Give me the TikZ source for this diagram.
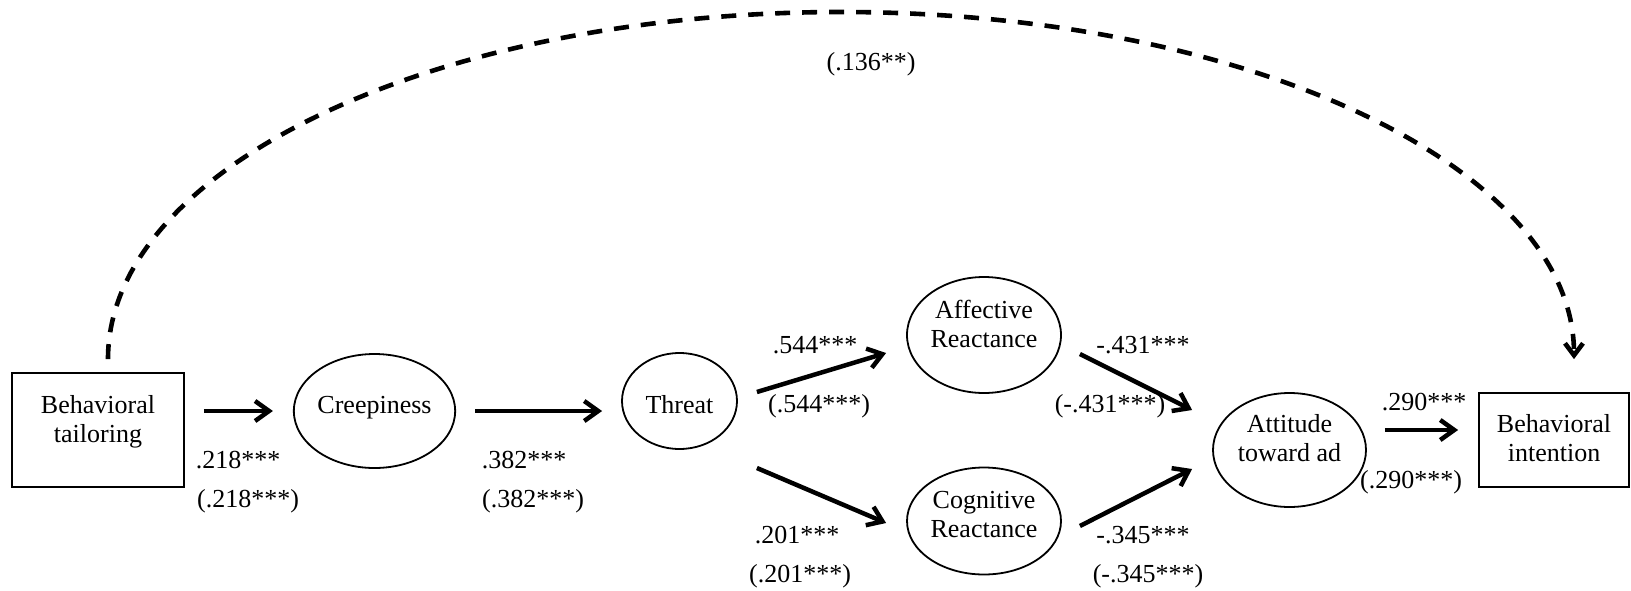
\documentclass[tikz,border=0pt]{standalone}
\usepackage{fontspec}
\setmainfont{Liberation Serif}
\usetikzlibrary{arrows.meta,calc,shapes.geometric}
\newcommand{\ntext}[2]{\raisebox{#1pt}[0pt][0pt]{\begin{tabular}[t]{@{}c@{}}#2\end{tabular}}}
\begin{document}
\begin{tikzpicture}[x=1pt,y=-1pt,
  every node/.style={font=\fontsize{26}{29}\selectfont, inner sep=0pt},
  ellnode/.style={ellipse, draw, line width=1.8pt},
  boxnode/.style={rectangle, draw, line width=1.8pt},
  pathlbl/.style={anchor=base},
  arr/.style={line width=4.5pt, -{Straight Barb[length=14pt,width=20pt]}},
  dasharr/.style={line width=4.6pt, dash pattern=on 15pt off 12pt, -{Straight Barb[length=12pt,width=18pt]}}]
\useasboundingbox (0,0) rectangle (1631,590);
% nodes
\node[boxnode, minimum width=172pt, minimum height=114pt] (bt) at (98,430) {\ntext{17}{Behavioral\\tailoring}};
\node[ellnode, minimum width=153pt, minimum height=114pt] (cr) at (374.5,411) {\ntext{-2}{Creepiness}};
\node[ellnode, minimum width=115pt, minimum height=96pt] (th) at (679.5,401) {\ntext{-12}{Threat}};
\node[ellnode, minimum width=154pt, minimum height=116pt] (af) at (984,335) {\ntext{17}{Affective\\Reactance}};
\node[ellnode, minimum width=154pt, minimum height=107pt] (co) at (984,521) {\ntext{13}{Cognitive\\Reactance}};
\node[ellnode, minimum width=153pt, minimum height=114pt] (at) at (1289.5,450) {\ntext{18}{Attitude\\toward ad}};
\node[boxnode, minimum width=150pt, minimum height=94pt] (bi) at (1554,440) {\ntext{8}{Behavioral\\intention}};
% connectors
\draw[arr] ($(bt.east)+(19,-19)$) -- ($(cr.west)+(-20,0)$);
\draw[arr] ($(cr.east)+(19,0)$) -- ($(th.west)+(-19,10)$);
\draw[arr] ($(th.east)+(19,-9)$) -- ($(af.west)+(-20,18)$);
\draw[arr] ($(th.east)+(19,67)$) -- ($(co.west)+(-20,2)$);
\draw[arr] ($(af.east)+(18,19)$) -- ($(at.west)+(-20,-40)$);
\draw[arr] ($(co.east)+(18,5)$) -- ($(at.west)+(-20,19)$);
\draw[arr] ($(at.east)+(18,-20)$) -- ($(bi.west)+(-20,-10)$);
\coordinate (pk) at (841,12);
\draw[dasharr] ($(bt.north)+(10,-13)$) .. controls +(0,-192) and +(-405,0) .. (pk) .. controls +(405,0) and +(0,-192) .. ($(bi.north)+(20,-33)$);
% labels
\node[pathlbl] (l1) at (238,468) {.218***};
\node[pathlbl] (l1b) at (248,507) {(.218***)};
\node[pathlbl] (l2) at (524,468) {.382***};
\node[pathlbl] (l2b) at (533,507) {(.382***)};
\node[pathlbl] (l3) at (815,353) {.544***};
\node[pathlbl] (l3b) at (819,412) {(.544***)};
\node[pathlbl] (l4) at (797,543) {.201***};
\node[pathlbl] (l4b) at (800,582) {(.201***)};
\node[pathlbl] (l5) at (1143,353) {-.431***};
\node[pathlbl] (l5b) at (1110,412) {(-.431***)};
\node[pathlbl] (l6) at (1143,543) {-.345***};
\node[pathlbl] (l6b) at (1148,582) {(-.345***)};
\node[pathlbl] (l7) at (1424,410) {.290***};
\node[pathlbl] (l7b) at (1411,488) {(.290***)};
\node[pathlbl] (l8) at (871,70) {(.136**)};
\end{tikzpicture}
\end{document}
